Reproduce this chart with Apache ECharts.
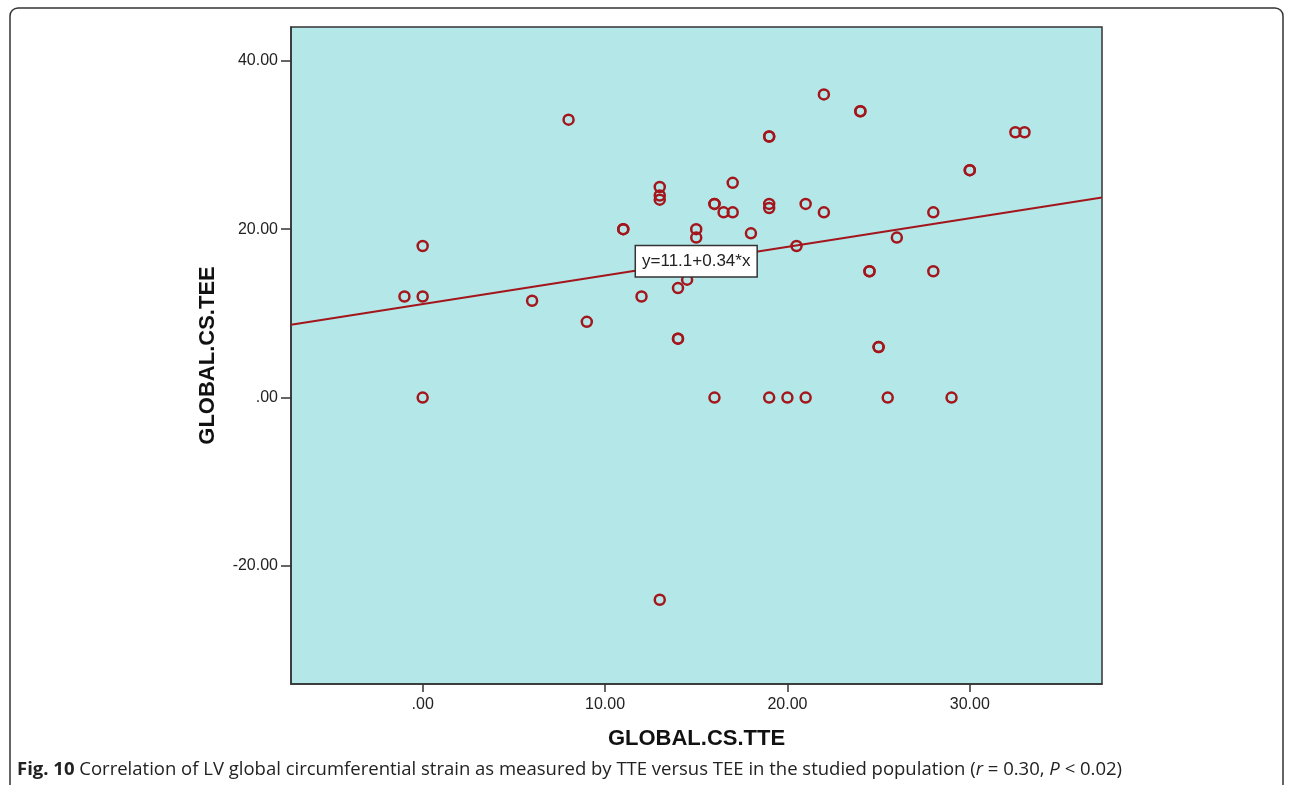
<!DOCTYPE html>
<html>
<head>
<meta charset="utf-8">
<script src="https://cdn.jsdelivr.net/npm/echarts@6/dist/echarts.min.js"></script>
<style>
html,body{margin:0;padding:0;background:#fff;}
#chart{width:1290px;height:785px;}
</style>
</head>
<body>
<div id="chart"></div>
<script>
// Data (GLOBAL.CS.TTE, GLOBAL.CS.TEE)
const tteValues = [-1, 0, 0, 0, 6, 8, 9, 11, 11, 12, 13, 13, 13, 13, 14, 14, 14, 14.5, 15, 15, 16, 16, 16, 16.5, 17, 17, 18, 19, 19, 19, 19, 19, 20, 20.5, 21, 21, 22, 22, 24, 24, 24.5, 24.5, 25, 25, 25.5, 26, 28, 28, 29, 30, 30, 32.5, 33];
const teeValues = [12, 12, 18, 0, 11.5, 33, 9, 20, 20, 12, 25, 24, 23.5, -24, 13, 7, 7, 14, 20, 19, 23, 23, 0, 22, 25.5, 22, 19.5, 31, 31, 23, 22.5, 0, 0, 18, 23, 0, 36, 22, 34, 34, 15, 15, 6, 6, 0, 19, 22, 15, 0, 27, 27, 31.5, 31.5];
const xTicks = [0, 10, 20, 30];
const yTicks = [-20, 0, 20, 40];
const fitIntercept = 11.1;
const fitSlope = 0.34;
const fitLabelX = 15;
const fitLabelText = 'y=11.1+0.34*x';
const xRange = [-7.22, 37.25];
const yRange = [-34, 44];

const points = tteValues.map((x, i) => [x, teeValues[i]]);
const fitLine = xRange.map(x => [x, fitIntercept + fitSlope * x]);
const fitLabelCoord = [fitLabelX, fitIntercept + fitSlope * fitLabelX];
const fmt = v => { let s = Number(v).toFixed(2); return s.replace(/^(-?)0\./, '$1.'); };

const red = '#a3161c';
const chart = echarts.init(document.getElementById('chart'));
chart.setOption({
  animation: false,
  backgroundColor: '#fff',
  graphic: [{
    type: 'rect',
    shape: { x: 10, y: 8, width: 1273, height: 800, r: 8 },
    style: { fill: 'none', stroke: '#333', lineWidth: 1.5 },
    z: -1
  }],
  title: {
    left: 12, top: 755,
    text: '{b|Fig. 10} Correlation of LV global circumferential strain as measured by TTE versus TEE in the studied population ({i|r} = 0.30, {i|P} < 0.02)',
    textStyle: {
      fontFamily: 'Open Sans', fontSize: 18.5, fontWeight: 'normal', color: '#222',
      rich: {
        b: { fontFamily: 'Open Sans', fontSize: 18.5, fontWeight: 'bold', color: '#222' },
        i: { fontFamily: 'Open Sans', fontSize: 18.5, fontStyle: 'italic', color: '#222' }
      }
    }
  },
  grid: {
    left: 291, top: 27, right: 188, bottom: 101,
    show: true, backgroundColor: '#b4e7e8', borderColor: '#333', borderWidth: 1.5
  },
  xAxis: {
    type: 'value', min: xRange[0], max: xRange[1],
    name: 'GLOBAL.CS.TTE', nameLocation: 'middle', nameGap: 44,
    nameTextStyle: { fontFamily: 'Liberation Sans', fontWeight: 'bold', fontSize: 22, color: '#111' },
    axisLine: { show: true, onZero: false, lineStyle: { color: '#333', width: 1.5 } },
    axisTick: { show: true, length: 8, customValues: xTicks, lineStyle: { color: '#333', width: 1.5 } },
    axisLabel: { customValues: xTicks, formatter: fmt, margin: 13, fontFamily: 'Liberation Sans', fontSize: 16, color: '#222' },
    splitLine: { show: false }
  },
  yAxis: {
    type: 'value', min: yRange[0], max: yRange[1],
    name: 'GLOBAL.CS.TEE', nameLocation: 'middle', nameGap: 72,
    nameTextStyle: { fontFamily: 'Liberation Sans', fontWeight: 'bold', fontSize: 22, color: '#111' },
    axisLine: { show: true, onZero: false, lineStyle: { color: '#333', width: 1.5 } },
    axisTick: { show: true, length: 10, customValues: yTicks, lineStyle: { color: '#333', width: 1.5 } },
    axisLabel: { customValues: yTicks, formatter: fmt, margin: 13, fontFamily: 'Liberation Sans', fontSize: 16, color: '#222' },
    splitLine: { show: false }
  },
  series: [
    {
      type: 'line', data: fitLine, showSymbol: false, symbol: 'none', clip: true,
      lineStyle: { color: red, width: 2 }, z: 2, silent: true,
      markPoint: {
        silent: true,
        symbol: 'rect', symbolSize: [120, 28],
        itemStyle: { color: '#ffffff', borderWidth: 0, opacity: 1 },
        label: {
          show: true, position: 'inside', formatter: fitLabelText,
          fontFamily: 'Liberation Sans', fontSize: 17, color: '#222',
          textBorderWidth: 0,
          backgroundColor: '#ffffff', borderColor: '#333', borderWidth: 1.5,
          padding: [7, 6, 6, 6]
        },
        data: [{ coord: fitLabelCoord }]
      }
    },
    {
      type: 'scatter', data: points, symbol: 'circle', symbolSize: 10,
      itemStyle: { color: 'rgba(0,0,0,0)', borderColor: red, borderWidth: 2.5, opacity: 1 },
      z: 3
    }
  ]
});
</script>
</body>
</html>
